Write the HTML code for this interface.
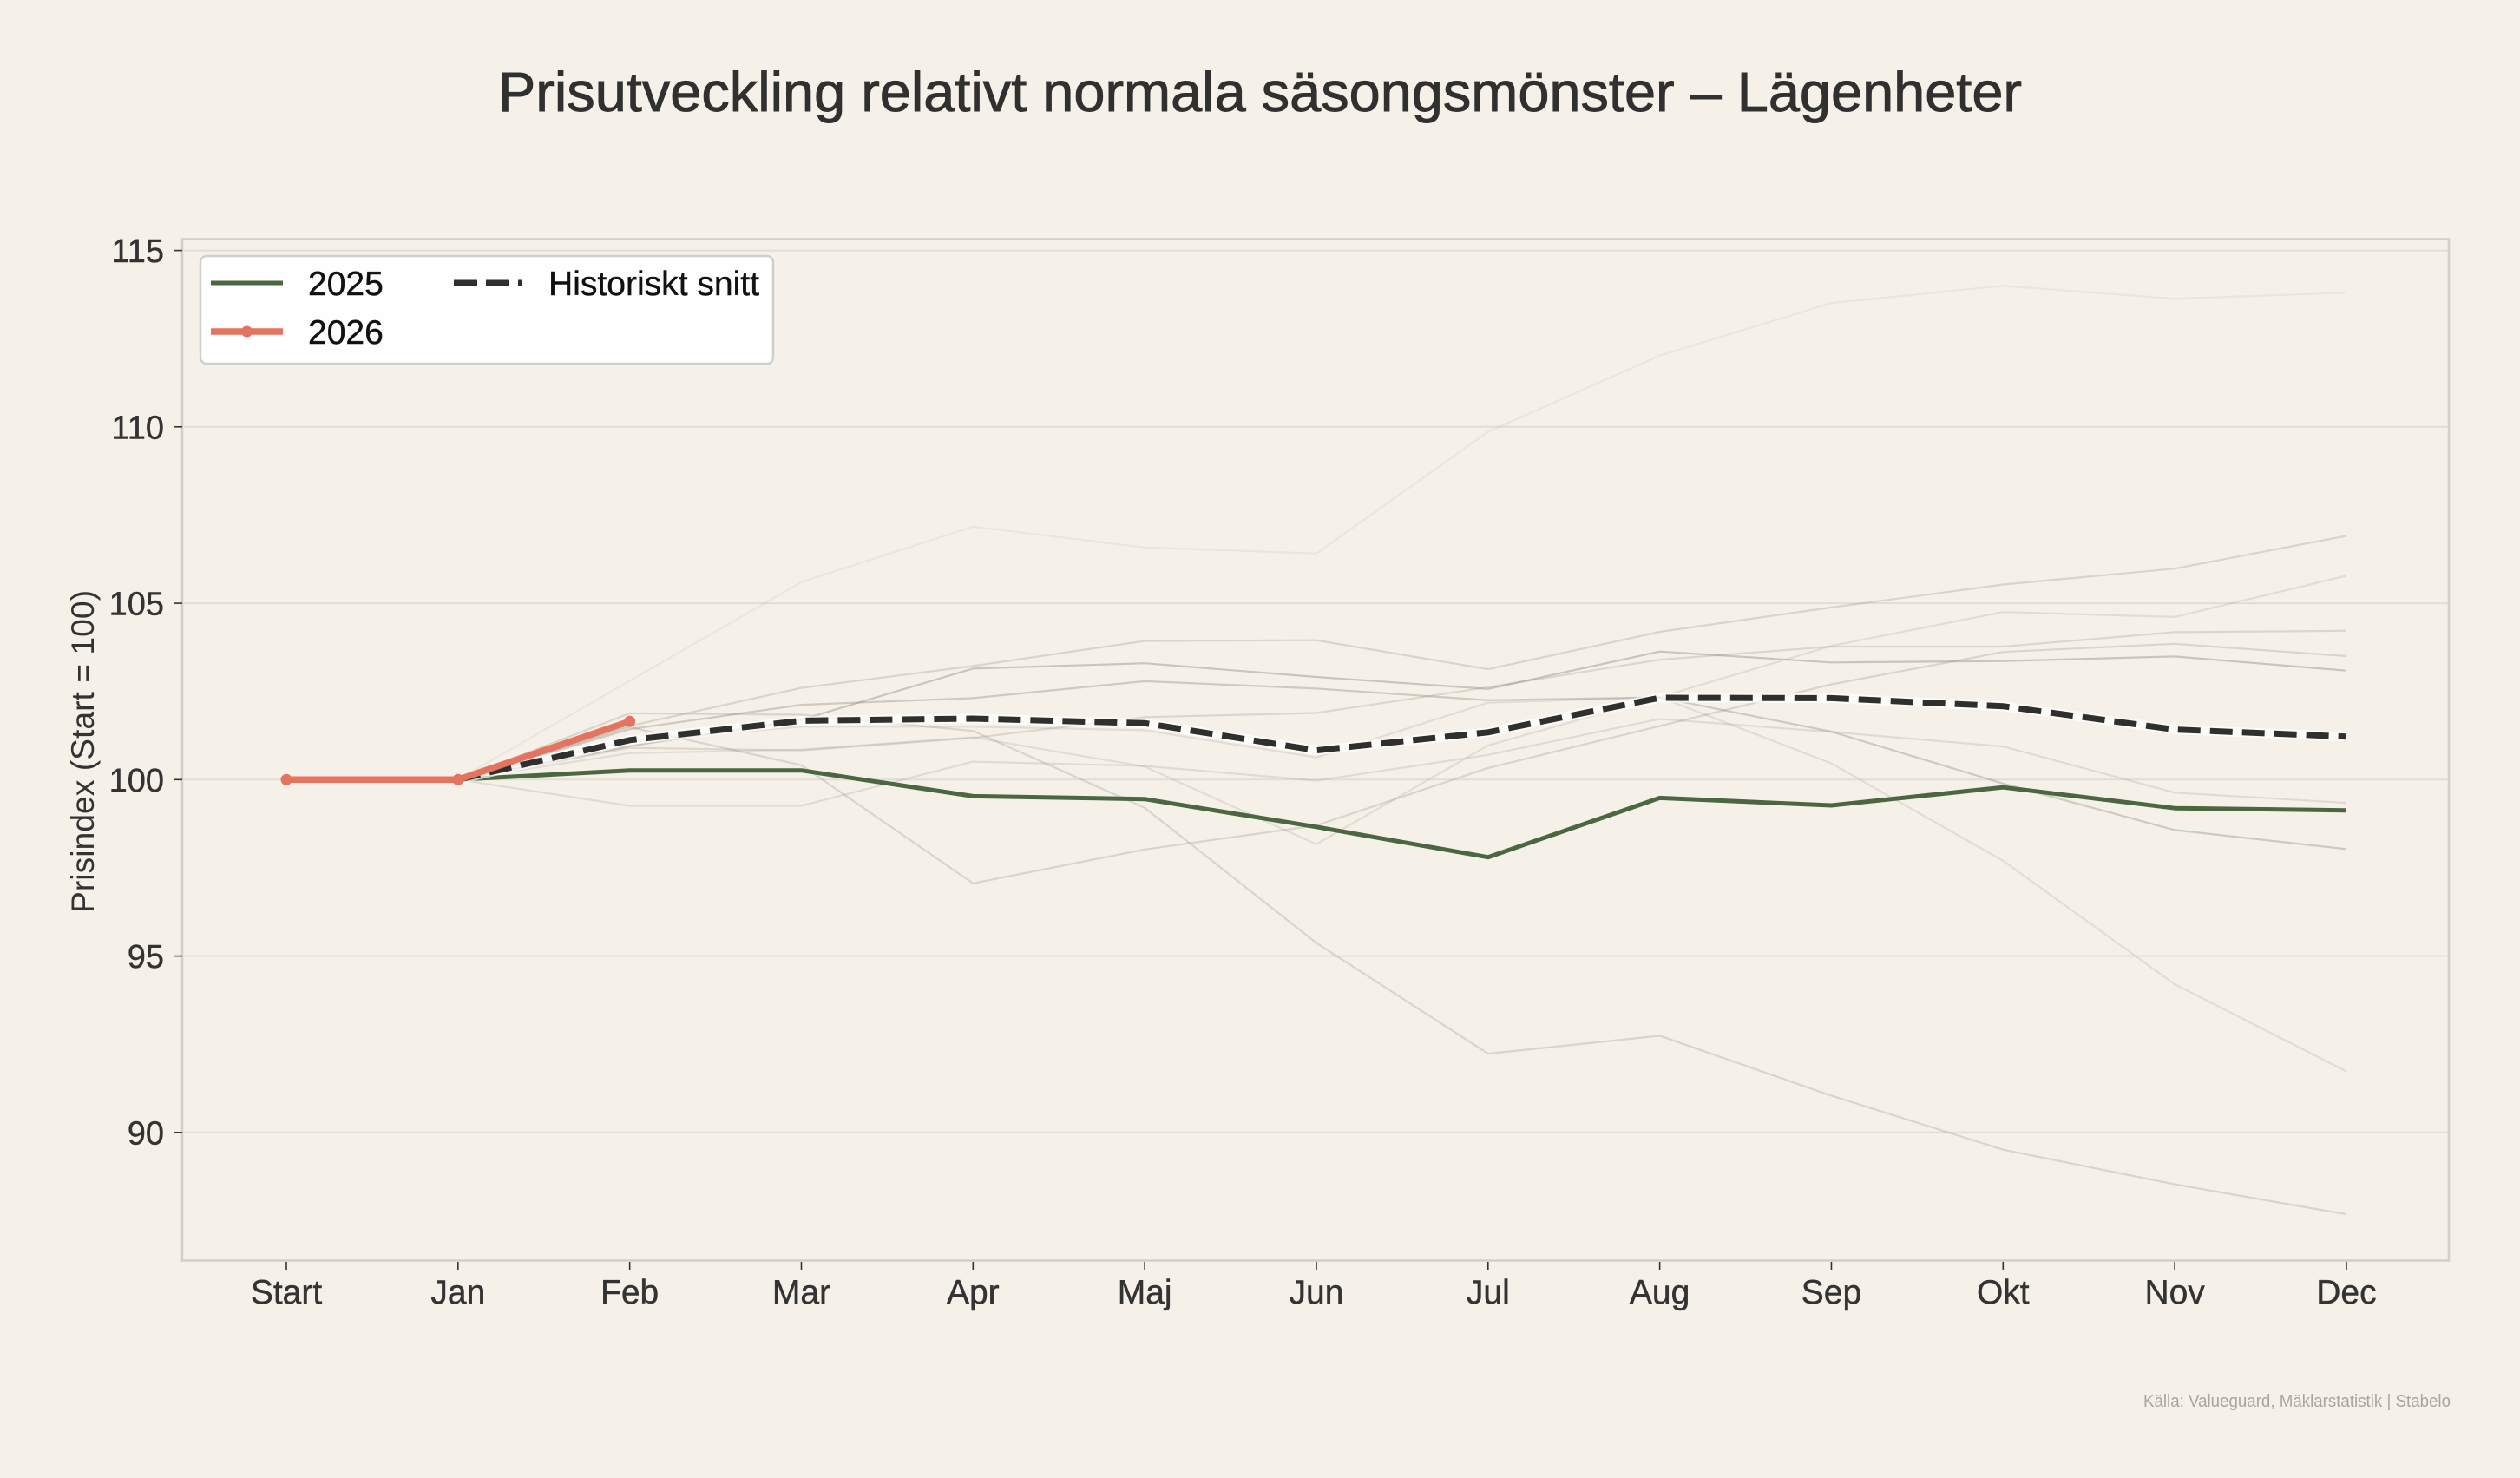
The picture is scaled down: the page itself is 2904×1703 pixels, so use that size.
<!DOCTYPE html>
<html>
<head>
<meta charset="utf-8">
<style>
html,body{margin:0;padding:0;background:#f5f1e8;}
svg{display:block;}
text{font-family:"Liberation Sans",Arial,sans-serif;}
</style>
</head>
<body>
<svg width="2904" height="1703" viewBox="0 0 2904 1703" xmlns="http://www.w3.org/2000/svg">
<rect x="0" y="0" width="2904" height="1703" fill="#f5f1e8"/>

<!-- Title -->
<text x="574" y="128" font-size="64" fill="#303030" stroke="#303030" stroke-width="0.9" textLength="1756" lengthAdjust="spacingAndGlyphs">Prisutveckling relativt normala säsongsmönster – Lägenheter</text>

<!-- Gridlines -->
<g stroke="#e2ded5" stroke-width="2">
<line x1="210" y1="288.6" x2="2822" y2="288.6"/>
<line x1="210" y1="491.8" x2="2822" y2="491.8"/>
<line x1="210" y1="695.1" x2="2822" y2="695.1"/>
<line x1="210" y1="898.3" x2="2822" y2="898.3"/>
<line x1="210" y1="1101.6" x2="2822" y2="1101.6"/>
<line x1="210" y1="1304.8" x2="2822" y2="1304.8"/>
</g>

<!-- Historical gray lines -->
<g fill="none" stroke-linejoin="round" stroke-width="2.2">
<polyline stroke="#8a857b" stroke-opacity="0.1" points="527.83,898.3 725.66,784.5 923.49,670.7 1121.32,606.8 1319.15,630.8 1516.98,637.7 1714.81,497.5 1912.64,409.7 2110.47,349.1 2308.3,329.2 2506.13,344.2 2703.96,337.3"/>
<polyline stroke="#8a857b" stroke-opacity="0.26" points="527.83,898.3 725.66,836.5 923.49,792.6 1121.32,767.4 1319.15,738.5 1516.98,737.7 1714.81,771.1 1912.64,728.0 2110.47,699.9 2308.3,673.5 2506.13,655.2 2703.96,617.4"/>
<polyline stroke="#8a857b" stroke-opacity="0.26" points="527.83,898.3 725.66,821.9 923.49,823.5 1121.32,842.2 1319.15,930.8 1516.98,1086.5 1714.81,1214.1 1912.64,1193.4 2110.47,1262.5 2308.3,1324.7 2506.13,1364.6 2703.96,1399.1"/>
<polyline stroke="#8a857b" stroke-opacity="0.18" points="527.83,898.3 725.66,853.6 923.49,837.3 1121.32,837.3 1319.15,841.4 1516.98,872.7 1714.81,809.7 1912.64,803.2 2110.47,879.6 2308.3,991.8 2506.13,1134.1 2703.96,1234.5"/>
<polyline stroke="#8a857b" stroke-opacity="0.18" points="527.83,898.3 725.66,867.8 923.49,863.7 1121.32,849.5 1319.15,883.3 1516.98,972.7 1714.81,858.9 1912.64,803.2 2110.47,744.2 2308.3,705.2 2506.13,710.9 2703.96,663.3"/>
<polyline stroke="#8a857b" stroke-opacity="0.24" points="527.83,898.3 725.66,861.7 923.49,864.6 1121.32,850.3 1319.15,826.3 1516.98,821.5 1714.81,791.8 1912.64,760.1 2110.47,745.0 2308.3,745.0 2506.13,728.4 2703.96,726.8"/>
<polyline stroke="#8a857b" stroke-opacity="0.26" points="527.83,898.3 725.66,837.7 923.49,881.6 1121.32,1017.8 1319.15,978.8 1516.98,951.1 1714.81,884.9 1912.64,836.5 2110.47,788.5 2308.3,751.2 2506.13,741.8 2703.96,756.0"/>
<polyline stroke="#8a857b" stroke-opacity="0.4" points="527.83,898.3 725.66,859.7 923.49,829.2 1121.32,770.3 1319.15,764.2 1516.98,780.0 1714.81,793.8 1912.64,750.7 2110.47,763.3 2308.3,761.7 2506.13,756.4 2703.96,772.7"/>
<polyline stroke="#8a857b" stroke-opacity="0.2" points="527.83,898.3 725.66,928.4 923.49,928.4 1121.32,877.6 1319.15,882.5 1516.98,899.5 1714.81,869.8 1912.64,828.4 2110.47,843.4 2308.3,860.1 2506.13,913.3 2703.96,925.1"/>
<polyline stroke="#8a857b" stroke-opacity="0.36" points="527.83,898.3 725.66,840.2 923.49,812.1 1121.32,804.4 1319.15,784.9 1516.98,793.4 1714.81,806.8 1912.64,803.6 2110.47,843.0 2308.3,902.8 2506.13,956.4 2703.96,978.4"/>
</g>

<!-- 2025 green -->
<polyline fill="none" stroke="#4a6741" stroke-width="5" stroke-linejoin="round" points="527.83,898.3 725.66,887.7 923.49,887.7 1121.32,917.4 1319.15,920.7 1516.98,952.8 1714.81,987.7 1912.64,919.4 2110.47,928.0 2308.3,907.2 2506.13,931.2 2703.96,933.7"/>

<!-- Historical average dashed -->
<polyline fill="none" stroke="#ffffff" stroke-opacity="0.7" stroke-width="11" stroke-linejoin="round" points="527.83,898.3 725.66,852.8 923.49,830.4 1121.32,828.0 1319.15,833.3 1516.98,864.6 1714.81,843.8 1912.64,804.0 2110.47,804.4 2308.3,813.7 2506.13,840.6 2703.96,848.7"/>
<polyline fill="none" stroke="#2f2f2f" stroke-width="7" stroke-dasharray="26 11" stroke-linejoin="miter" points="527.83,898.3 725.66,852.8 923.49,830.4 1121.32,828.0 1319.15,833.3 1516.98,864.6 1714.81,843.8 1912.64,804.0 2110.47,804.4 2308.3,813.7 2506.13,840.6 2703.96,848.7"/>

<!-- 2026 red -->
<polyline fill="none" stroke="#e4735f" stroke-width="7.5" stroke-linejoin="round" points="330,898.3 527.83,898.3 725.66,831.2"/>
<g fill="#e4735f">
<circle cx="330" cy="898.3" r="6.5"/>
<circle cx="527.83" cy="898.3" r="6.5"/>
<circle cx="725.66" cy="831.2" r="6.5"/>
</g>

<!-- Axes frame -->
<rect x="210" y="275.5" width="2612" height="1177" fill="none" stroke="#d3cfc5" stroke-width="2.5"/>

<!-- Y ticks -->
<g stroke="#333" stroke-width="1.6">
<line x1="200" y1="288.6" x2="210" y2="288.6"/>
<line x1="200" y1="491.8" x2="210" y2="491.8"/>
<line x1="200" y1="695.1" x2="210" y2="695.1"/>
<line x1="200" y1="898.3" x2="210" y2="898.3"/>
<line x1="200" y1="1101.6" x2="210" y2="1101.6"/>
<line x1="200" y1="1304.8" x2="210" y2="1304.8"/>
</g>
<g font-size="38" fill="#333" stroke="#333" stroke-width="0.4" text-anchor="end">
<text x="189" y="302">115</text>
<text x="189" y="505.5">110</text>
<text x="189" y="708.5">105</text>
<text x="189" y="912">100</text>
<text x="189" y="1115">95</text>
<text x="189" y="1318.5">90</text>
</g>

<!-- X ticks -->
<g stroke="#333" stroke-width="1.6">
<line x1="330" y1="1454" x2="330" y2="1463"/>
<line x1="527.83" y1="1454" x2="527.83" y2="1463"/>
<line x1="725.66" y1="1454" x2="725.66" y2="1463"/>
<line x1="923.49" y1="1454" x2="923.49" y2="1463"/>
<line x1="1121.32" y1="1454" x2="1121.32" y2="1463"/>
<line x1="1319.15" y1="1454" x2="1319.15" y2="1463"/>
<line x1="1516.98" y1="1454" x2="1516.98" y2="1463"/>
<line x1="1714.81" y1="1454" x2="1714.81" y2="1463"/>
<line x1="1912.64" y1="1454" x2="1912.64" y2="1463"/>
<line x1="2110.47" y1="1454" x2="2110.47" y2="1463"/>
<line x1="2308.3" y1="1454" x2="2308.3" y2="1463"/>
<line x1="2506.13" y1="1454" x2="2506.13" y2="1463"/>
<line x1="2703.96" y1="1454" x2="2703.96" y2="1463"/>
</g>
<g font-size="39" fill="#333" stroke="#333" stroke-width="0.4" text-anchor="middle">
<text x="330" y="1502">Start</text>
<text x="527.83" y="1502">Jan</text>
<text x="725.66" y="1502">Feb</text>
<text x="923.49" y="1502">Mar</text>
<text x="1121.32" y="1502">Apr</text>
<text x="1319.15" y="1502">Maj</text>
<text x="1516.98" y="1502">Jun</text>
<text x="1714.81" y="1502">Jul</text>
<text x="1912.64" y="1502">Aug</text>
<text x="2110.47" y="1502">Sep</text>
<text x="2308.3" y="1502">Okt</text>
<text x="2506.13" y="1502">Nov</text>
<text x="2703.96" y="1502">Dec</text>
</g>

<!-- Y axis label -->
<text transform="translate(108,866) rotate(-90)" font-size="37" fill="#333" text-anchor="middle" textLength="372" lengthAdjust="spacingAndGlyphs">Prisindex (Start = 100)</text>

<!-- Legend -->
<rect x="231" y="295" width="660" height="124" rx="7" ry="7" fill="#ffffff" fill-opacity="0.92" stroke="#cfcfcf" stroke-width="2.5"/>
<line x1="243" y1="326" x2="326" y2="326" stroke="#4a6741" stroke-width="5"/>
<text x="355" y="340" font-size="39" fill="#111" stroke="#111" stroke-width="0.4">2025</text>
<line x1="243" y1="382" x2="326" y2="382" stroke="#e4735f" stroke-width="7.5"/>
<circle cx="284.5" cy="382" r="6.5" fill="#e4735f"/>
<text x="355" y="396" font-size="39" fill="#111" stroke="#111" stroke-width="0.4">2026</text>
<line x1="523" y1="326" x2="602" y2="326" stroke="#2f2f2f" stroke-width="7" stroke-dasharray="27 10"/>
<text x="632" y="340" font-size="39" fill="#111" stroke="#111" stroke-width="0.4" textLength="243" lengthAdjust="spacingAndGlyphs">Historiskt snitt</text>

<!-- Source -->
<text x="2824" y="1621" font-size="20" fill="#a8a5a0" text-anchor="end" textLength="354" lengthAdjust="spacingAndGlyphs">Källa: Valueguard, Mäklarstatistik | Stabelo</text>
</svg>
</body>
</html>
